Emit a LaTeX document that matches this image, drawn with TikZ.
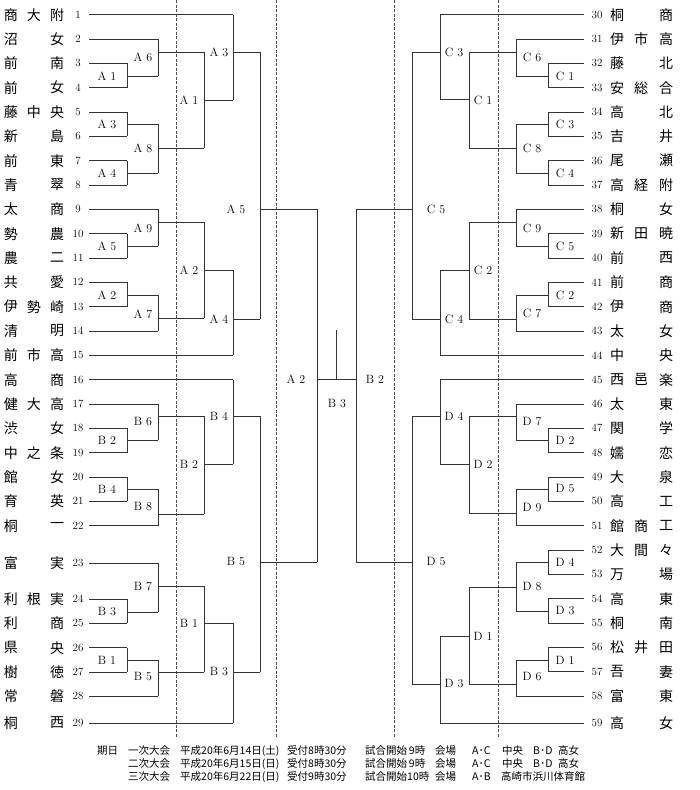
\documentclass[tikz,border=0pt]{standalone}
\usepackage{fontspec}
\newfontfamily\cjk{Noto Sans CJK JP}
\usetikzlibrary{positioning}

\tikzset{
  line/.style={draw=black!80,line width=0.75pt},
  sep/.style={draw=black!70,line width=0.5pt,dash pattern=on 3pt off 1.5pt},
  team/.style={inner sep=0pt,font=\fontsize{14}{14}\cjk},
  num/.style={inner sep=0pt,minimum width=22pt,font=\fontsize{11}{11}\selectfont},
  lab/.style={inner sep=0pt,font=\fontsize{12}{12}\selectfont},
  foot/.style={inner sep=0pt,anchor=west,font=\fontsize{10.5}{10.5}\cjk}
}

% #1 name, #2 label, #3/#4 label pos, #5 vertical x, #6 top y, #7 bottom y, #8 out y, #9 next x
\newcommand\game[9]{%
  \node[lab] (#1) at (#3,#4) {#2};
  \coordinate (#1o) at (#5,#8);
  \draw[line] (#5,#6) -- (#5,#7);
  \draw[line] (#1o) -- (#9,#8);
}

\begin{document}
\begin{tikzpicture}[x=1pt,y=-1pt]
  \useasboundingbox (0,0) rectangle (700,790);

  % round separators
  \foreach \x in {176,276,394,498}
    \draw[sep] (\x,0) -- (\x,738);

  % left teams
  \foreach \n/\y/\e/\p/\q/\r in {
    1/14.7/233/商/大/附, 2/39/158/沼/{}/女, 3/63.3/127/前/{}/南, 4/87.7/127/前/{}/女,
    5/112/127/藤/中/央, 6/136.3/127/新/{}/島, 7/160.7/127/前/{}/東, 8/185/127/青/{}/翠,
    9/209.3/158/太/{}/商, 10/233.7/127/勢/{}/農, 11/258/127/農/{}/二, 12/282.3/127/共/{}/愛,
    13/306.7/127/伊/勢/崎, 14/331/158/清/{}/明, 15/355.3/233/前/市/高, 16/379.7/233/高/{}/商,
    17/404/158/健/大/高, 18/428.3/127/渋/{}/女, 19/452.7/127/中/之/条, 20/477/127/館/{}/女,
    21/501.3/127/育/{}/英, 22/525.7/158/桐/{}/一, 23/563/158/富/{}/実, 24/599/127/利/根/実,
    25/623.3/127/利/{}/商, 26/647.7/127/県/{}/央, 27/672/127/樹/{}/徳, 28/696.3/158/常/{}/磐,
    29/723/233/桐/{}/西}{
    \node[team] (p\n) at (11,\y) {\p};
    \node[team] (q\n) at (34,\y) {\q};
    \node[team] (r\n) at (57,\y) {\r};
    \node[num] (t\n) at (78,\y) {\n};
    \draw[line] (t\n.east) -- (\e,\y);
  }

  % right teams
  \foreach \n/\y/\e/\p/\q/\r in {
    30/14.7/440/桐/{}/商, 31/39/516/伊/市/高, 32/63.3/548/藤/{}/北, 33/87.7/548/安/総/合,
    34/112/548/高/{}/北, 35/136.3/548/吉/{}/井, 36/160.7/548/尾/{}/瀬, 37/185/548/高/経/附,
    38/209.3/516/桐/{}/女, 39/233.7/548/新/田/暁, 40/258/548/前/{}/西, 41/282.3/548/前/{}/商,
    42/306.7/548/伊/{}/商, 43/331/516/太/{}/女, 44/355.3/440/中/{}/央, 45/379.7/440/西/邑/楽,
    46/404/516/太/{}/東, 47/428.3/548/関/{}/学, 48/452.7/548/嬬/{}/恋, 49/477/548/大/{}/泉,
    50/501.3/548/高/{}/工, 51/525.7/516/館/商/工, 52/550/548/大/間/々, 53/574.3/548/万/{}/場,
    54/598.7/548/高/{}/東, 55/623/548/桐/{}/南, 56/647.3/548/松/井/田, 57/671.7/548/吾/{}/妻,
    58/696/516/富/{}/東, 59/723/440/高/{}/女}{
    \node[num,minimum width=26pt] (t\n) at (597,\y) {\n};
    \node[team] (p\n) at (617,\y) {\p};
    \node[team] (q\n) at (641,\y) {\q};
    \node[team] (r\n) at (666,\y) {\r};
    \draw[line] (t\n.west) -- (\e,\y);
  }

  % left side, first round
  \game{la1}{A 1}{107}{76}{127}{63.3}{87.7}{76}{158}
  \game{la3}{A 3}{107}{124}{127}{112}{136.3}{124}{158}
  \game{la4}{A 4}{107}{173}{127}{160.7}{185}{173}{158}
  \game{la5}{A 5}{107}{246}{127}{233.7}{258}{246}{158}
  \game{la2}{A 2}{107}{295}{127}{282.3}{306.7}{295}{158}
  \game{lb2}{B 2}{107}{440}{127}{428.3}{452.7}{440}{158}
  \game{lb4}{B 4}{107}{489}{127}{477}{501.3}{489}{158}
  \game{lb3}{B 3}{107}{612}{127}{599}{623.3}{612}{158}
  \game{lb1}{B 1}{107}{660}{127}{647.7}{672}{660}{158}
  % left side, second round
  \game{la6}{A 6}{143}{57}{158}{39}{76}{52}{204}
  \game{la8}{A 8}{143}{148}{158}{124}{173}{148}{204}
  \game{la9}{A 9}{143}{228}{158}{209.3}{246}{222}{204}
  \game{la7}{A 7}{143}{314}{158}{295}{331}{318}{204}
  \game{lb6}{B 6}{143}{422}{158}{404}{440}{416}{204}
  \game{lb8}{B 8}{143}{507}{158}{489}{525.7}{514}{204}
  \game{lb7}{B 7}{143}{587}{158}{563}{612}{586}{204}
  \game{lb5}{B 5}{143}{677}{158}{660}{696.3}{672}{204}
  % left side, third round
  \game{ma1}{A 1}{189}{100}{204}{52}{148}{100}{233}
  \game{ma2}{A 2}{189}{270}{204}{222}{318}{270}{233}
  \game{mb2}{B 2}{189}{464}{204}{416}{514}{464}{233}
  \game{mb1}{B 1}{189}{623}{204}{586}{672}{623}{233}
  % left side, fourth round
  \game{na3}{A 3}{219}{52}{233}{14.7}{100}{52}{260}
  \game{na4}{A 4}{219}{319}{233}{270}{355.3}{319}{260}
  \game{nb4}{B 4}{219}{416}{233}{379.7}{464}{416}{260}
  \game{nb3}{B 3}{219}{672}{233}{623}{723}{672}{260}
  % left side, fifth round
  \game{oa5}{A 5}{236}{209}{260}{52}{319}{209}{317}
  \game{ob5}{B 5}{236}{562}{260}{416}{672}{562}{317}

  % right side, first round
  \game{rc1}{C 1}{565}{76}{548}{63.3}{87.7}{76}{516}
  \game{rc3}{C 3}{565}{124}{548}{112}{136.3}{124}{516}
  \game{rc4}{C 4}{565}{173}{548}{160.7}{185}{173}{516}
  \game{rc5}{C 5}{565}{246}{548}{233.7}{258}{246}{516}
  \game{rc2}{C 2}{565}{295}{548}{282.3}{306.7}{295}{516}
  \game{rd2}{D 2}{565}{440}{548}{428.3}{452.7}{440}{516}
  \game{rd5}{D 5}{565}{489}{548}{477}{501.3}{489}{516}
  \game{rd4}{D 4}{565}{562}{548}{550}{574.3}{562}{516}
  \game{rd3}{D 3}{565}{611}{548}{598.7}{623}{611}{516}
  \game{rd1}{D 1}{565}{660}{548}{647.3}{671.7}{660}{516}
  % right side, second round
  \game{sc6}{C 6}{532}{57}{516}{39}{76}{52}{469}
  \game{sc8}{C 8}{532}{148}{516}{124}{173}{148}{469}
  \game{sc9}{C 9}{532}{228}{516}{209.3}{246}{222}{469}
  \game{sc7}{C 7}{532}{313}{516}{295}{331}{319}{469}
  \game{sd7}{D 7}{532}{422}{516}{404}{440}{416}{469}
  \game{sd9}{D 9}{532}{508}{516}{489}{525.7}{513}{469}
  \game{sd8}{D 8}{532}{587}{516}{562}{611}{587}{469}
  \game{sd6}{D 6}{532}{677}{516}{660}{696}{684}{469}
  % right side, third round
  \game{uc1}{C 1}{483}{100}{469}{52}{148}{99}{440}
  \game{uc2}{C 2}{483}{270}{469}{222}{319}{270}{440}
  \game{ud2}{D 2}{483}{464}{469}{416}{513}{464}{440}
  \game{ud1}{D 1}{483}{636}{469}{587}{684}{636}{440}
  % right side, fourth round
  \game{vc3}{C 3}{454}{52}{440}{14.7}{99}{52}{412}
  \game{vc4}{C 4}{454}{319}{440}{270}{355.3}{319}{412}
  \game{vd4}{D 4}{454}{416}{440}{379.7}{464}{416}{412}
  \game{vd3}{D 3}{454}{684}{440}{636}{723}{684}{412}
  % right side, fifth round
  \game{wc5}{C 5}{436}{209}{412}{52}{319}{209}{356}
  \game{wd5}{D 5}{436}{562}{412}{416}{684}{562}{356}

  % final
  \game{fa2}{A 2}{296}{379}{317}{209}{562}{379}{356}
  \game{fb2}{B 2}{375}{379}{356}{209}{562}{379}{336}
  \coordinate (fin) at (336,379);
  \coordinate (top) at (336,330);
  \draw[line] (fin) -- (top);
  \node[lab] (fb3) at (337,404) {B 3};

  % schedule
  \node[foot] (day) at (97,751) {期日};
  \foreach \x/\t [count=\i] in {128/一次大会, 180/平成20年6月14日(土), 287/受付8時30分,
      365/試合開始\,9時, 435/会場, 472/A･C, 502/中央, 533/B･D, 558/高女}
    \node[foot] (fa\i) at (\x,751) {\t};
  \foreach \x/\t [count=\i] in {128/二次大会, 180/平成20年6月15日(日), 287/受付8時30分,
      365/試合開始\,9時, 435/会場, 472/A･C, 502/中央, 533/B･D, 558/高女}
    \node[foot] (fb\i) at (\x,764) {\t};
  \foreach \x/\t [count=\i] in {128/三次大会, 180/平成20年6月22日(日), 287/受付9時30分,
      365/試合開始10時, 435/会場, 472/A･B, 501/高崎市浜川体育館}
    \node[foot] (fc\i) at (\x,777) {\t};
\end{tikzpicture}
\end{document}
